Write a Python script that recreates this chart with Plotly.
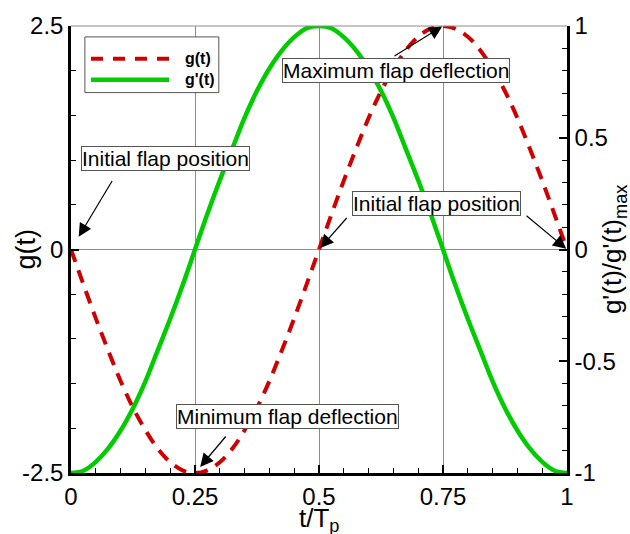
import plotly.graph_objects as go

t_vals = [0, 0.025, 0.05, 0.075, 0.1, 0.125, 0.15, 0.175, 0.2, 0.225, 0.25,
          0.275, 0.3, 0.325, 0.35, 0.375, 0.4, 0.425, 0.45, 0.475, 0.5,
          0.525, 0.55, 0.575, 0.6, 0.625, 0.65, 0.675, 0.7, 0.725, 0.75,
          0.775, 0.8, 0.825, 0.85, 0.875, 0.9, 0.925, 0.95, 0.975, 1.0]
g_vals = [0, -0.39, -0.77, -1.13, -1.47, -1.77, -2.02, -2.23, -2.38, -2.47, -2.5,
          -2.47, -2.38, -2.23, -2.02, -1.77, -1.47, -1.13, -0.77, -0.39, 0,
          0.39, 0.77, 1.13, 1.47, 1.77, 2.02, 2.23, 2.38, 2.47, 2.5,
          2.47, 2.38, 2.23, 2.02, 1.77, 1.47, 1.13, 0.77, 0.39, 0]
gp_vals = [-1, -0.99, -0.95, -0.89, -0.81, -0.71, -0.59, -0.45, -0.31, -0.16, 0,
           0.16, 0.31, 0.45, 0.59, 0.71, 0.81, 0.89, 0.95, 0.99, 1,
           0.99, 0.95, 0.89, 0.81, 0.71, 0.59, 0.45, 0.31, 0.16, 0,
           -0.16, -0.31, -0.45, -0.59, -0.71, -0.81, -0.89, -0.95, -0.99, -1]

x_ticks = [0, 0.25, 0.5, 0.75, 1]
x_ticklabels = ["0", "0.25", "0.5", "0.75", "1"]
y_ticks = [-2.5, 0, 2.5]
y_ticklabels = ["-2.5", "0", "2.5"]
y2_ticks = [-1, -0.5, 0, 0.5, 1]
y2_ticklabels = ["-1", "-0.5", "0", "0.5", "1"]

RED = "#D10000"
GREEN = "#00CC00"
FONT = "Liberation Sans, Arial, sans-serif"
GRID = "#8c8c8c"
TICKSIZE = 24

fig = go.Figure()
fig.add_trace(go.Scatter(x=t_vals, y=g_vals, name="g(t)", mode="lines",
                         line=dict(color=RED, width=4, dash="13px,9px", shape="spline"),
                         yaxis="y", showlegend=False))
fig.add_trace(go.Scatter(x=t_vals, y=gp_vals, name="g'(t)", mode="lines",
                         line=dict(color=GREEN, width=4.5, shape="spline"),
                         yaxis="y2", showlegend=False))

fig.update_layout(
    width=630, height=534,
    margin=dict(l=71, r=63, t=23, b=61),
    paper_bgcolor="white", plot_bgcolor="white",
    font=dict(family=FONT, color="black", size=TICKSIZE),
    xaxis=dict(range=[0, 1], tickmode="array", tickvals=x_ticks, ticktext=x_ticklabels,
               ticks="inside", ticklen=8, tickwidth=2, tickcolor="black",
               showline=True, linecolor="black", linewidth=2.5,
               showgrid=True, gridcolor=GRID, gridwidth=1, zeroline=False,
               tickfont=dict(size=TICKSIZE),
               minor=dict(tick0=0, dtick=0.05, ticks="inside", ticklen=5,
                          tickwidth=1, tickcolor="black", showgrid=False)),
    yaxis=dict(range=[-2.5, 2.5], tickmode="array", tickvals=y_ticks, ticktext=y_ticklabels,
               ticks="inside", ticklen=8, tickwidth=2, tickcolor="black",
               showline=True, linecolor="black", linewidth=2.5,
               showgrid=True, gridcolor=GRID, gridwidth=1, zeroline=False,
               tickfont=dict(size=TICKSIZE),
               minor=dict(tick0=-2.5, dtick=0.5, ticks="inside", ticklen=5,
                          tickwidth=1, tickcolor="black", showgrid=False)),
    yaxis2=dict(range=[-1, 1], overlaying="y", side="right", anchor="x",
                tickmode="array", tickvals=y2_ticks, ticktext=y2_ticklabels,
                ticks="inside", ticklen=8, tickwidth=2, tickcolor="black",
                showline=True, linecolor="black", linewidth=2.5,
                showgrid=False, zeroline=False, tickfont=dict(size=TICKSIZE),
                minor=dict(tick0=-1, dtick=0.1, ticks="inside", ticklen=5,
                           tickwidth=1, tickcolor="black", showgrid=False)),
)

shapes = []
# top border (gray)
shapes.append(dict(type="line", xref="paper", yref="paper", x0=0, x1=1, y0=1, y1=1,
                   line=dict(color=GRID, width=1)))
# legend box
shapes.append(dict(type="rect", xref="paper", yref="paper", x0=0.028, x1=0.298,
                   y0=0.851, y1=0.9756, fillcolor="white",
                   line=dict(color="#555555", width=1)))
shapes.append(dict(type="line", xref="paper", yref="paper", x0=0.0403, x1=0.1976,
                   y0=0.9267, y1=0.9267, line=dict(color=RED, width=4, dash="12px,10px")))
shapes.append(dict(type="line", xref="paper", yref="paper", x0=0.0403, x1=0.1976,
                   y0=0.88, y1=0.88, line=dict(color=GREEN, width=4.5)))
fig.update_layout(shapes=shapes)

ann = []
# legend texts
ann.append(dict(xref="paper", yref="paper", x=0.2258, y=0.9267, text="<b>g(t)</b>",
                showarrow=False, xanchor="left", yanchor="middle", font=dict(size=16)))
ann.append(dict(xref="paper", yref="paper", x=0.2258, y=0.88, text="<b>g'(t)</b>",
                showarrow=False, xanchor="left", yanchor="middle", font=dict(size=16)))

# axis titles
ann.append(dict(xref="paper", yref="paper", x=0.5, y=-0.104, text="t/T<sub>p</sub>",
                showarrow=False, xanchor="center", yanchor="middle", font=dict(size=26)))
ann.append(dict(xref="paper", yref="paper", x=-0.0927, y=0.5, text="g(t)", textangle=-90,
                showarrow=False, xanchor="center", yanchor="middle", font=dict(size=27)))
ann.append(dict(xref="paper", yref="paper", x=1.094, y=0.5,
                text="g'(t)/g'(t)<sub>max</sub>", textangle=-90,
                showarrow=False, xanchor="center", yanchor="middle", font=dict(size=26)))

# arrows
arrow_style = dict(showarrow=True, arrowhead=2, arrowsize=2.2, arrowwidth=1.2,
                   arrowcolor="black", text="", axref="pixel", ayref="pixel")
ann.append(dict(x=0, y=0, xref="x", yref="y", ax=42, ay=-70, standoff=15, **arrow_style))
ann.append(dict(x=0.75, y=2.5, xref="x", yref="y", ax=-50, ay=31, standoff=1, **arrow_style))
ann.append(dict(x=0.5, y=0, xref="x", yref="y", ax=29, ay=-33, standoff=2, **arrow_style))
ann.append(dict(x=1, y=0, xref="x", yref="y", ax=-42, ay=-35, standoff=1, **arrow_style))
ann.append(dict(x=0.25, y=-2.5, xref="x", yref="y", ax=32, ay=-38, standoff=8, **arrow_style))

# text boxes
box_style = dict(showarrow=False, xref="paper", yref="paper", xanchor="center",
                 yanchor="middle", bgcolor="white", bordercolor="#555555",
                 borderwidth=1, borderpad=0, font=dict(size=21))
ann.append(dict(x=0.1915, y=0.703, text="Initial flap position", **box_style))
ann.append(dict(x=0.655, y=0.9, text="Maximum flap deflection", **box_style))
ann.append(dict(x=0.737, y=0.603, text="Initial flap position", **box_style))
ann.append(dict(x=0.4365, y=0.1267, text="Minimum flap deflection", **box_style))
fig.update_layout(annotations=ann)

fig.write_html("out.html")
